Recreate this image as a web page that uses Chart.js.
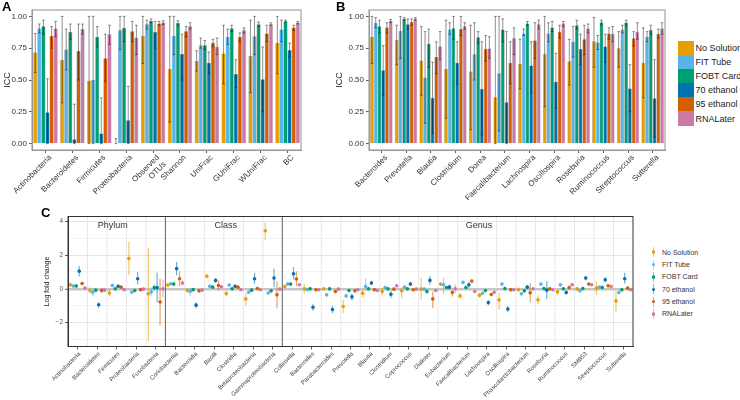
<!DOCTYPE html>
<html><head><meta charset="utf-8">
<script src="https://cdn.jsdelivr.net/npm/chart.js"></script>
<style>
html,body{margin:0;padding:0;background:#fff;width:740px;height:400px;overflow:hidden;font-family:"Liberation Sans",Arial,Helvetica,sans-serif;}
body{position:relative;}
canvas{position:absolute;}
.tag{position:absolute;font-weight:bold;font-size:13px;line-height:13px;color:#000;z-index:2;}
#legAB{position:absolute;left:678px;top:41px;}
#legAB .it{height:14.1px;display:flex;align-items:center;font-size:9px;color:#1a1a1a;white-space:nowrap;}
#legAB .sw{width:15.5px;height:14.1px;margin-right:2px;flex:none;}
#legC{position:absolute;left:649px;top:246px;}
#legC .it{height:12.35px;display:flex;align-items:center;font-size:7px;color:#333;white-space:nowrap;}
#legC .g{position:relative;width:9px;height:12px;margin-right:4px;flex:none;}
#legC .g .ln{position:absolute;left:3.8px;top:1px;width:1.3px;height:10px;opacity:0.5;}
#legC .g .dt{position:absolute;left:2.7px;top:4.3px;width:3.5px;height:3.5px;border-radius:50%;}
</style></head>
<body>
<div class="tag" style="left:2px;top:0px">A</div>
<canvas id="cA" width="305" height="200" style="left:0;top:0;width:305px;height:200px"></canvas>
<div class="tag" style="left:336px;top:0px">B</div>
<canvas id="cB" width="340" height="200" style="left:330px;top:0;width:340px;height:200px"></canvas>
<div id="legAB"></div>
<div class="tag" style="left:41px;top:206px">C</div>
<canvas id="cC" width="610" height="200" style="left:30px;top:200px;width:610px;height:200px"></canvas>
<div id="legC"></div>
<script>
// ---------------- data ----------------
const SERIES = ['No Solution','FIT Tube','FOBT Card','70 ethanol','95 ethanol','RNALater'];
const COLORS = ['#E69F00','#56B4E9','#009E73','#0072B2','#D55E00','#CC79A7'];

// Panel A (ICC)
const A_CATEGORIES = ['Actinobacteria','Bacteroidetes','Firmicutes','Proteobacteria',['Observed','OTUs'],'Shannon','UniFrac','GUniFrac','WUniFrac','BC'];
const A_TICKS = [0, 0.25, 0.5, 0.75, 1];
const A_noSolution   = [0.717,0.657,0.494,0.0,0.847,0.587,0.65,0.709,0.688,0.79];
const A_noSolutionLo = [0.56,0.32,0.0,0.0,0.63,0.17,0.57,0.47,0.40,0.55];
const A_noSolutionHi = [0.865,1.0,1.0,0.04,1.0,1.0,0.73,0.93,0.97,1.0];
const A_fitTube   = [0.904,0.74,0.50,0.89,0.938,0.847,0.774,0.839,0.844,0.896];
const A_fitTubeLo = [0.87,0.58,0.0,0.74,0.90,0.70,0.75,0.78,0.70,0.80];
const A_fitTubeHi = [0.94,0.90,1.0,1.0,0.97,1.0,0.83,0.90,1.0,0.97];
const A_fobtCard   = [0.922,0.878,0.84,0.909,0.964,0.948,0.774,0.906,0.938,0.961];
const A_fobtCardLo = [0.86,0.82,0.76,0.80,0.95,0.93,0.74,0.88,0.92,0.955];
const A_fobtCardHi = [0.97,0.94,0.92,1.0,0.98,0.965,0.81,0.93,0.955,0.97];
const A_ethanol70   = [0.247,0.034,0.08,0.184,0.878,0.704,0.636,0.548,0.506,0.735];
const A_ethanol70Lo = [0.0,0.0,0.0,0.0,0.75,0.50,0.55,0.44,0.25,0.68];
const A_ethanol70Hi = [0.51,0.31,0.36,0.45,0.96,0.86,0.72,0.66,0.76,0.79];
const A_ethanol95   = [0.847,0.73,0.67,0.883,0.943,0.883,0.792,0.839,0.865,0.912];
const A_ethanol95Lo = [0.75,0.50,0.49,0.80,0.93,0.84,0.76,0.80,0.80,0.89];
const A_ethanol95Hi = [0.92,0.94,0.86,0.96,0.96,0.92,0.82,0.87,0.93,0.93];
const A_rnaLater   = [0.904,0.90,0.86,0.834,0.951,0.922,0.761,0.89,0.938,0.951];
const A_rnaLaterLo = [0.84,0.86,0.78,0.70,0.935,0.90,0.70,0.87,0.93,0.94];
const A_rnaLaterHi = [0.96,0.94,0.93,0.93,0.965,0.95,0.83,0.91,0.95,0.96];

// Panel B (ICC, genera)
const B_CATEGORIES = ['Bacteroides','Prevotella','Blautia','Clostridium','Dorea','Faecalibacterium','Lachnospira','Oscillospira','Roseburia','Ruminococcus','Streptococcus','Sutterella'];
const B_TICKS = [0, 0.25, 0.5, 0.75, 1];
const B_noSolution   = [0.84,0.815,0.653,0.589,0.566,0.365,0.627,0.707,0.648,0.805,0.75,0.635];
const B_noSolutionLo = [0.63,0.62,0.38,0.20,0.11,0.0,0.43,0.29,0.46,0.60,0.60,0.36];
const B_noSolutionHi = [1.0,0.93,0.92,0.97,0.93,1.0,0.82,1.0,0.82,0.99,0.88,0.91];
const B_fitTube   = [0.949,0.887,0.52,0.897,0.702,0.553,0.866,0.866,0.80,0.794,0.897,0.84];
const B_fitTubeLo = [0.91,0.67,0.16,0.86,0.50,0.10,0.85,0.80,0.68,0.74,0.87,0.80];
const B_fitTubeHi = [0.99,1.0,0.88,0.95,0.95,1.0,0.90,0.95,0.92,0.85,0.93,0.88];
const B_fobtCard   = [0.923,0.982,0.784,0.907,0.835,0.897,0.943,0.913,0.93,0.954,0.951,0.892];
const B_fobtCardLo = [0.87,0.97,0.60,0.82,0.79,0.80,0.93,0.88,0.90,0.93,0.93,0.86];
const B_fobtCardHi = [0.97,0.99,0.90,1.0,0.88,0.98,0.96,0.96,0.97,0.97,0.97,0.93];
const B_ethanol70   = [0.576,0.938,0.36,0.635,0.43,0.326,0.614,0.486,0.743,0.764,0.434,0.357];
const B_ethanol70Lo = [0.38,0.90,0.08,0.47,0.07,0.0,0.40,0.28,0.62,0.64,0.25,0.05];
const B_ethanol70Hi = [0.77,0.98,0.64,0.80,0.80,0.88,0.80,0.71,0.86,0.86,0.62,0.66];
const B_ethanol95   = [0.913,0.956,0.68,0.90,0.746,0.635,0.81,0.879,0.82,0.866,0.828,0.861];
const B_ethanol95Lo = [0.87,0.93,0.55,0.85,0.65,0.47,0.67,0.83,0.70,0.82,0.77,0.83];
const B_ethanol95Hi = [0.95,0.98,0.80,1.0,0.85,0.80,0.95,0.93,0.93,0.91,0.88,0.90];
const B_rnaLater   = [0.964,0.982,0.763,0.923,0.748,0.828,0.938,0.943,0.905,0.861,0.879,0.905];
const B_rnaLaterLo = [0.95,0.97,0.66,0.90,0.67,0.70,0.90,0.92,0.87,0.80,0.82,0.86];
const B_rnaLaterHi = [0.975,0.99,0.88,0.95,0.84,0.91,0.97,0.96,0.94,0.92,0.95,0.95];

// Panel C (log fold change)
const C_PHYLUM = ['Actinobacteria','Bacteroidetes','Firmicutes','Proteobacteria','Fusobacteria'];
const C_CLASS  = ['Coriobacteriia','Bacteroidia','Bacilli','Clostridia','Betaproteobacteria','Gammaproteobacteria'];
const C_GENUS  = ['Collinsella','Bacteroides','Parabacteroides','Prevotella','Blautia','Clostridium','Coprococcus','Dialister','Eubacterium','Faecalibacterium','Lachnospira','Oscillospira','Phascolarctobacterium','Roseburia','Ruminococcus','SMB53','Streptococcus','Sutterella'];
const C_GROUP_NAMES = ['Phylum','Class','Genus'];
const C_TICKS = [-2, 0, 2, 4];
const C_GRID = [-3, -2, -1, 0, 1, 2, 3, 4];
const C_noSolution   = [0.24,-0.1,-0.25,1.8,-0.3, 0.22,-0.1,0.75,-0.28,-0.6,3.45, 0.14,0.0,0.0,-1.05,-0.26,-0.16,-0.12,-0.02,0.28,-0.42,-0.38,-0.66,-0.06,-0.66,-0.18,0.0,0.04,-0.72];
const C_noSolutionLo = [0.12,-0.3,-0.45,0.8,-3.1, 0.1,-0.25,0.6,-0.45,-1.0,2.9, 0.04,-0.3,-0.1,-1.45,-0.5,-0.4,-0.55,-0.66,0.18,-0.6,-0.55,-1.25,-0.2,-0.9,-0.4,-0.15,-0.35,-1.35];
const C_noSolutionHi = [0.36,0.1,-0.05,2.8,2.45, 0.34,0.05,0.9,-0.1,-0.25,3.95, 0.24,0.3,0.1,-0.65,-0.05,0.05,0.1,0.64,0.38,-0.25,-0.2,-0.25,0.1,-0.4,0.0,0.1,0.45,-0.16];
const C_fitTube   = [0.17,-0.2,0.2,-0.2,-0.18, 0.3,-0.15,0.15,0.22,-0.2,-0.25, 0.28,-0.05,-0.36,-0.42,0.14,0.08,0.1,-0.02,0.24,0.38,-0.26,0.28,-0.3,0.28,0.24,-0.12,0.1,-0.22];
const C_fitTubeLo = [0.05,-0.45,0.1,-0.3,-0.45, 0.2,-0.45,0.05,0.12,-0.3,-0.35, 0.18,-0.15,-0.46,-0.52,-0.15,-0.02,0.0,-0.12,-0.3,0.28,-0.36,0.18,-0.4,0.18,0.14,-0.22,0.0,-0.32];
const C_fitTubeHi = [0.29,0.05,0.3,-0.1,0.1, 0.4,0.05,0.25,0.32,-0.1,-0.15, 0.38,0.05,-0.26,-0.32,0.6,0.18,0.2,0.08,0.65,0.48,-0.16,0.38,-0.2,0.38,0.34,-0.02,0.2,-0.12];
const C_fobtCard   = [0.17,-0.08,0.0,-0.1,0.07, 0.28,-0.05,0.1,0.0,-0.08,-0.12, 0.28,0.0,0.0,-0.1,0.0,0.0,0.0,-0.16,0.08,0.08,-0.1,0.02,-0.12,0.02,0.0,0.02,0.08,-0.06];
const C_fobtCardLo = [0.07,-0.18,-0.1,-0.2,-0.1, 0.15,-0.15,0.0,-0.1,-0.18,-0.22, 0.18,-0.1,-0.1,-0.2,-0.1,-0.1,-0.1,-0.3,-0.02,-0.02,-0.2,-0.08,-0.22,-0.08,-0.1,-0.08,-0.02,-0.16];
const C_fobtCardHi = [0.27,0.02,0.1,0.0,0.25, 0.42,0.05,0.2,0.1,0.02,-0.02, 0.38,0.1,0.1,0.0,0.1,0.1,0.1,-0.02,0.18,0.18,0.0,0.12,-0.02,0.12,0.1,0.12,0.18,0.04];
const C_ethanol70   = [1.05,-0.95,0.15,0.6,0.07, 1.2,-0.97,0.5,0.15,0.6,0.64, 0.9,-1.1,-1.23,-0.48,0.34,-0.32,0.28,0.5,0.1,0.24,-0.82,-1.2,0.1,-0.08,-0.22,0.64,0.54,0.6];
const C_ethanol70Lo = [0.75,-1.12,0.05,0.25,-0.8, 0.8,-1.15,0.35,0.05,0.3,0.1, 0.55,-1.3,-1.45,-0.7,0.22,-0.55,0.16,0.25,-0.05,0.06,-0.98,-1.38,-0.02,-0.6,-0.36,0.5,0.38,0.3];
const C_ethanol70Hi = [1.35,-0.8,0.25,1.0,0.95, 1.6,-0.8,0.65,0.25,0.95,1.2, 1.3,-0.92,-1.0,-0.28,0.46,-0.1,0.4,0.75,0.25,0.42,-0.66,-1.02,0.22,0.45,-0.08,0.78,0.7,0.95];
const C_ethanol95   = [0.32,-0.1,0.1,-0.05,-0.78, 0.6,-0.12,0.2,0.1,0.02,-0.36, 0.58,-0.06,-0.16,-0.12,-0.06,-0.02,-0.06,-0.6,-0.22,0.46,-0.34,-0.06,-0.24,0.0,0.08,0.29,0.18,0.04];
const C_ethanol95Lo = [0.22,-0.25,0.0,-0.15,-2.2, 0.15,-0.22,-0.1,0.0,-0.08,-1.15, 0.15,-0.16,-0.26,-0.22,-0.16,-0.12,-0.16,-1.15,-0.45,0.36,-0.44,-0.16,-0.8,-0.1,-0.02,0.19,0.08,-0.06];
const C_ethanol95Hi = [0.42,0.05,0.2,0.05,0.6, 1.05,-0.02,0.5,0.2,0.12,0.45, 1.05,0.04,-0.06,-0.02,0.04,0.08,0.04,-0.15,0.0,0.56,-0.24,0.04,0.35,0.1,0.18,0.39,0.28,0.14];
const C_rnaLater   = [0.05,-0.08,-0.05,-0.02,0.0, 0.35,-0.08,0.12,-0.05,-0.05,-0.02, 0.24,-0.06,-0.02,-0.06,-0.1,0.18,-0.02,-0.1,0.0,-0.16,-0.2,-0.06,0.0,-0.06,0.24,0.24,0.14,-0.06];
const C_rnaLaterLo = [-0.03,-0.16,-0.13,-0.1,-0.5, 0.2,-0.16,0.04,-0.13,-0.13,-0.1, 0.16,-0.14,-0.1,-0.14,-0.18,0.1,-0.1,-0.18,-0.25,-0.24,-0.28,-0.14,-0.08,-0.14,0.16,0.16,0.06,-0.14];
const C_rnaLaterHi = [0.13,0.0,0.03,0.06,0.55, 0.5,0.0,0.2,0.03,0.03,0.06, 0.32,0.02,0.06,0.02,-0.02,0.26,0.06,-0.02,0.25,-0.08,-0.12,0.02,0.08,0.02,0.32,0.32,0.22,0.02];

// ---------------- rendering ----------------
const FONT = '"Liberation Sans", Arial, Helvetica, sans-serif';
Chart.defaults.font.family = FONT;
Chart.defaults.color = '#333';

function alpha(hex, a){
  const n = parseInt(hex.slice(1),16);
  return `rgba(${(n>>16)&255},${(n>>8)&255},${n&255},${a})`;
}

const frame = {
  id: 'frame',
  afterDatasetsDraw(chart, args, o){
    const a = chart.chartArea, ctx = chart.ctx;
    ctx.save();
    ctx.strokeStyle = o.color; ctx.lineWidth = o.width;
    ctx.strokeRect(a.left, a.top, a.right - a.left, a.bottom - a.top);
    ctx.restore();
  }
};

const errorBars = {
  id: 'errorBars',
  afterDatasetsDraw(chart){
    const ctx = chart.ctx, ys = chart.scales.y;
    ctx.save();
    ctx.strokeStyle = 'rgba(20,20,20,0.6)';
    ctx.lineWidth = 0.8;
    chart.data.datasets.forEach((ds, di) => {
      if (!ds.errLo) return;
      chart.getDatasetMeta(di).data.forEach((el, i) => {
        const x = el.x, y1 = ys.getPixelForValue(ds.errLo[i]), y2 = ys.getPixelForValue(ds.errHi[i]);
        const cap = 1.3;
        ctx.beginPath();
        ctx.moveTo(x, y1); ctx.lineTo(x, y2);
        ctx.moveTo(x - cap, y1); ctx.lineTo(x + cap, y1);
        ctx.moveTo(x - cap, y2); ctx.lineTo(x + cap, y2);
        ctx.stroke();
      });
    });
    ctx.restore();
  }
};

function barPanel(id, cats, ticks, vals, los, his, yWidth, padRight){
  return new Chart(document.getElementById(id), {
    type: 'bar',
    data: {
      labels: cats,
      datasets: SERIES.map((s, k) => ({
        label: s, data: vals[k], errLo: los[k], errHi: his[k],
        backgroundColor: COLORS[k], borderColor: 'rgba(40,40,40,0.55)', borderWidth: 0.5,
        categoryPercentage: 0.91, barPercentage: 1.0
      }))
    },
    options: {
      responsive: false, animation: false, devicePixelRatio: 1, events: [],
      layout: { padding: { top: 10, right: padRight, left: 0, bottom: 0 } },
      plugins: { legend: { display: false }, tooltip: { enabled: false }, frame: { color: '#9a9a9a', width: 1.1 } },
      scales: {
        x: {
          offset: true,
          grid: { offset: false, drawOnChartArea: false, drawTicks: true, tickLength: 3, tickColor: '#333', tickWidth: 0.8 },
          border: { display: true, color: '#9a9a9a' },
          ticks: { autoSkip: false, minRotation: 45, maxRotation: 45, padding: 0, labelOffset: 5, color: '#333', font: { size: 8 } },
          afterFit(s){ s.height = 50; }
        },
        y: {
          min: -0.05, max: 1.05,
          afterBuildTicks(s){ s.ticks = ticks.map(v => ({ value: v })); },
          grid: { drawOnChartArea: false, drawTicks: true, tickLength: 3, tickColor: '#333', tickWidth: 0.8 },
          border: { display: true, color: '#9a9a9a' },
          ticks: { padding: 2, color: '#333', font: { size: 8 }, callback: v => Number(v).toFixed(2) },
          title: { display: true, text: 'ICC', color: '#222', font: { size: 9 }, padding: { top: yWidth > 35 ? 4 : 2.5 } },
          afterFit(s){ s.width = yWidth; }
        }
      }
    },
    plugins: [errorBars, frame]
  });
}

barPanel('cA', A_CATEGORIES, A_TICKS,
  [A_noSolution, A_fitTube, A_fobtCard, A_ethanol70, A_ethanol95, A_rnaLater],
  [A_noSolutionLo, A_fitTubeLo, A_fobtCardLo, A_ethanol70Lo, A_ethanol95Lo, A_rnaLaterLo],
  [A_noSolutionHi, A_fitTubeHi, A_fobtCardHi, A_ethanol70Hi, A_ethanol95Hi, A_rnaLaterHi],
  32, 4);

barPanel('cB', B_CATEGORIES, B_TICKS,
  [B_noSolution, B_fitTube, B_fobtCard, B_ethanol70, B_ethanol95, B_rnaLater],
  [B_noSolutionLo, B_fitTubeLo, B_fobtCardLo, B_ethanol70Lo, B_ethanol95Lo, B_rnaLaterLo],
  [B_noSolutionHi, B_fitTubeHi, B_fobtCardHi, B_ethanol70Hi, B_ethanol95Hi, B_rnaLaterHi],
  39, 5);

// ---- panel C ----
const C_CATEGORIES = [...C_PHYLUM, ...C_CLASS, ...C_GENUS];
const C_GROUP_SIZES = [C_PHYLUM.length, C_CLASS.length, C_GENUS.length];
const C_LABEL_POS = [1.8, 7.6, 20.6];   // category-index positions of the group names
const C_LABEL_Y = 3.78;

const cMeans = [C_noSolution, C_fitTube, C_fobtCard, C_ethanol70, C_ethanol95, C_rnaLater];
const cLo = [C_noSolutionLo, C_fitTubeLo, C_fobtCardLo, C_ethanol70Lo, C_ethanol95Lo, C_rnaLaterLo];
const cHi = [C_noSolutionHi, C_fitTubeHi, C_fobtCardHi, C_ethanol70Hi, C_ethanol95Hi, C_rnaLaterHi];

const cBackground = {
  id: 'cBackground',
  beforeDraw(chart){
    const ctx = chart.ctx, xs = chart.scales.x, a = chart.chartArea;
    ctx.save();
    ctx.strokeStyle = '#e4e4e4'; ctx.lineWidth = 0.9;
    for (let i = 1; i < C_CATEGORIES.length; i++){
      const px = (xs.getPixelForTick(i - 1) + xs.getPixelForTick(i)) / 2;
      ctx.beginPath(); ctx.moveTo(px, a.top); ctx.lineTo(px, a.bottom); ctx.stroke();
    }
    ctx.restore();
  },
  beforeDatasetsDraw(chart){
    const ctx = chart.ctx, xs = chart.scales.x, ys = chart.scales.y, a = chart.chartArea;
    ctx.save();
    ctx.strokeStyle = '#666'; ctx.lineWidth = 1;
    let idx = 0;
    for (let g = 0; g < C_GROUP_SIZES.length - 1; g++){
      idx += C_GROUP_SIZES[g];
      const px = (xs.getPixelForTick(idx - 1) + xs.getPixelForTick(idx)) / 2;
      ctx.beginPath(); ctx.moveTo(px, a.top); ctx.lineTo(px, a.bottom); ctx.stroke();
    }
    ctx.fillStyle = '#333'; ctx.font = '9px ' + FONT; ctx.textAlign = 'center'; ctx.textBaseline = 'middle';
    C_GROUP_NAMES.forEach((n, g) => ctx.fillText(n, xs.getPixelForValue(C_LABEL_POS[g]), ys.getPixelForValue(C_LABEL_Y)));
    ctx.restore();
  },
  afterDatasetsDraw(chart){
    const ctx = chart.ctx, ys = chart.scales.y, a = chart.chartArea;
    ctx.save();
    chart.data.datasets.forEach((ds, di) => {
      ctx.fillStyle = COLORS[di];
      chart.getDatasetMeta(di).data.forEach((el, i) => {
        ctx.beginPath();
        ctx.arc(el.x, ys.getPixelForValue(ds.means[i]), 1.8, 0, Math.PI * 2);
        ctx.fill();
      });
    });
    ctx.strokeStyle = '#333'; ctx.lineWidth = 1;
    ctx.strokeRect(a.left, a.top, a.right - a.left, a.bottom - a.top);
    ctx.restore();
  }
};

new Chart(document.getElementById('cC'), {
  type: 'bar',
  data: {
    labels: C_CATEGORIES,
    datasets: SERIES.map((s, k) => ({
      label: s,
      data: cLo[k].map((l, i) => [l, cHi[k][i]]),
      means: cMeans[k],
      backgroundColor: alpha(COLORS[k], 0.55),
      borderWidth: 0,
      categoryPercentage: 0.9, barPercentage: 0.42
    }))
  },
  options: {
    responsive: false, animation: false, devicePixelRatio: 1, events: [],
    layout: { padding: { top: 16.5, right: 7, left: 0, bottom: 0 } },
    plugins: { legend: { display: false }, tooltip: { enabled: false } },
    scales: {
      x: {
        offset: true,
        grid: { offset: false, drawOnChartArea: false, drawTicks: true, tickLength: 3, tickColor: '#333', tickWidth: 0.8 },
        border: { display: true, color: '#333' },
        ticks: { autoSkip: false, minRotation: 45, maxRotation: 45, padding: 1, labelOffset: 2, color: '#444', font: { size: 6 } },
        afterFit(s){ s.height = 53.5; }
      },
      y: {
        min: -3.43, max: 4.3,
        afterBuildTicks(s){ s.ticks = C_GRID.map(v => ({ value: v })); },
        grid: {
          drawOnChartArea: true, drawTicks: true, tickLength: 3, tickWidth: 0.8,
          color: c => c.tick.value === 0 ? '#c6c6c6' : (C_TICKS.includes(c.tick.value) ? '#dedede' : '#f0f0f0'),
          lineWidth: c => c.tick.value === 0 ? 2.6 : 0.8,
          tickColor: c => C_TICKS.includes(c.tick.value) ? '#333' : 'rgba(0,0,0,0)'
        },
        border: { display: true, color: '#333' },
        ticks: { padding: 2, color: '#555', font: { size: 6.5 },
          callback: v => C_TICKS.includes(v) ? String(v).replace('-', '\u2212') : '' },
        title: { display: true, text: 'Log fold change', color: '#222', font: { size: 7 }, padding: { top: 12.5 } },
        afterFit(s){ s.width = 38; }
      }
    }
  },
  plugins: [cBackground]
});

// ---- legends ----
const legAB = document.getElementById('legAB');
SERIES.forEach((s, k) => {
  const it = document.createElement('div'); it.className = 'it';
  const sw = document.createElement('div'); sw.className = 'sw'; sw.style.background = COLORS[k];
  const t = document.createElement('span'); t.textContent = s;
  it.appendChild(sw); it.appendChild(t); legAB.appendChild(it);
});
const legC = document.getElementById('legC');
SERIES.forEach((s, k) => {
  const it = document.createElement('div'); it.className = 'it';
  const g = document.createElement('div'); g.className = 'g';
  const ln = document.createElement('div'); ln.className = 'ln'; ln.style.background = COLORS[k];
  const dt = document.createElement('div'); dt.className = 'dt'; dt.style.background = COLORS[k];
  g.appendChild(ln); g.appendChild(dt);
  const t = document.createElement('span'); t.textContent = s;
  it.appendChild(g); it.appendChild(t); legC.appendChild(it);
});
</script>
</body></html>
